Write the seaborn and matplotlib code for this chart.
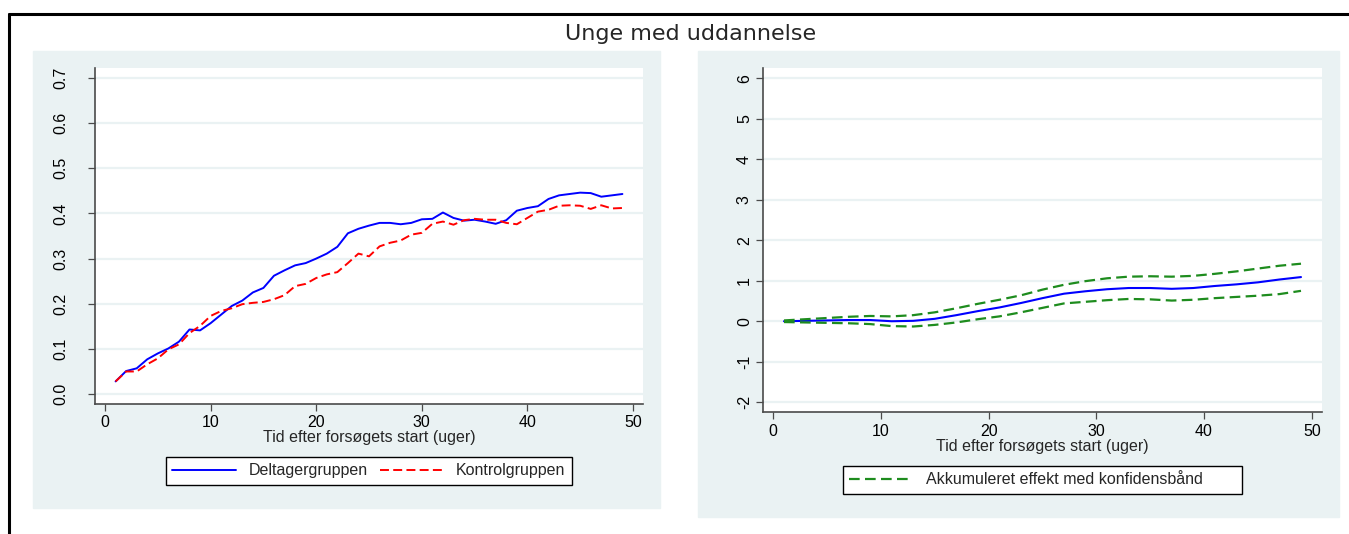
import matplotlib
matplotlib.use("Agg")
import matplotlib.pyplot as plt
import seaborn as sns
from matplotlib.patches import Rectangle
from matplotlib.lines import Line2D

W, H = 1349, 534


def fx(px):
    return px / W


def fy(py):
    return 1 - py / H


# venstre panel: andel i uddannelse pr. uge
weeks = list(range(1, 50))
deltager = [0.028, 0.051, 0.057, 0.077, 0.090, 0.101, 0.116, 0.143, 0.141, 0.157,
            0.176, 0.195, 0.207, 0.225, 0.235, 0.262, 0.274, 0.285, 0.290, 0.300,
            0.311, 0.326, 0.356, 0.366, 0.373, 0.379, 0.379, 0.376, 0.379, 0.387,
            0.388, 0.402, 0.390, 0.384, 0.386, 0.382, 0.377, 0.385, 0.406, 0.412,
            0.416, 0.432, 0.440, 0.443, 0.446, 0.445, 0.437, 0.440, 0.443]
kontrol = [0.028, 0.050, 0.050, 0.066, 0.079, 0.099, 0.110, 0.135, 0.151, 0.173,
           0.184, 0.190, 0.199, 0.202, 0.204, 0.210, 0.219, 0.239, 0.244, 0.257,
           0.265, 0.270, 0.290, 0.311, 0.305, 0.327, 0.335, 0.340, 0.353, 0.357,
           0.377, 0.382, 0.375, 0.385, 0.388, 0.386, 0.386, 0.379, 0.376, 0.390,
           0.404, 0.408, 0.417, 0.418, 0.417, 0.410, 0.418, 0.411, 0.412]

# hoejre panel: akkumuleret effekt med konfidensbaand
eff_weeks = [1, 3, 5, 7, 9, 11, 13, 15, 17, 19, 21, 23, 25, 27, 29, 31, 33, 35,
             37, 39, 41, 43, 45, 47, 49]
effekt = [0.0, 0.01, 0.02, 0.03, 0.03, 0.0, 0.01, 0.06, 0.15, 0.25, 0.34, 0.45,
          0.57, 0.68, 0.74, 0.79, 0.82, 0.82, 0.80, 0.82, 0.87, 0.91, 0.96, 1.03, 1.09]
effekt_hoej = [0.02, 0.05, 0.08, 0.11, 0.13, 0.12, 0.15, 0.22, 0.32, 0.43, 0.53,
               0.64, 0.78, 0.90, 0.99, 1.06, 1.10, 1.11, 1.10, 1.12, 1.17, 1.23,
               1.30, 1.37, 1.42]
effekt_lav = [-0.02, -0.03, -0.04, -0.05, -0.07, -0.12, -0.13, -0.09, -0.03, 0.05,
              0.12, 0.22, 0.33, 0.44, 0.48, 0.52, 0.55, 0.54, 0.51, 0.53, 0.57,
              0.60, 0.63, 0.67, 0.75]

x_ticks = [0, 10, 20, 30, 40, 50]
y_ticks_left = [0.0, 0.1, 0.2, 0.3, 0.4, 0.5, 0.6, 0.7]
y_ticks_right = [-2, -1, 0, 1, 2, 3, 4, 5, 6]

x_label = "Tid efter forsøgets start (uger)"

sns.set_style("white")
plt.rcParams["font.family"] = ["Liberation Sans", "DejaVu Sans"]
plt.rcParams["axes.unicode_minus"] = False

panel_bg = "#EAF2F3"
axis_col = "#4a4a4a"
fs = 11.5

fig = plt.figure(figsize=(W / 100, H / 100), dpi=100)
fig.patch.set_facecolor("white")

# panel-baggrunde
for x0, y0, x1, y1 in [(33, 51, 660, 508), (698, 51, 1339, 517)]:
    fig.add_artist(Rectangle((fx(x0), fy(y1)), fx(x1) - fx(x0), fy(y0) - fy(y1),
                             transform=fig.transFigure, color=panel_bg, zorder=0))

# sort ramme (top og venstre)
fig.add_artist(Line2D([fx(9), 1], [fy(14), fy(14)], color="black", lw=2.2,
                      transform=fig.transFigure))
fig.add_artist(Line2D([fx(9), fx(9)], [fy(14), 0], color="black", lw=2.2,
                      transform=fig.transFigure))

fig.text(fx(691), fy(34), "Unge med uddannelse", ha="center", va="center",
         fontsize=16, family="DejaVu Sans")


def style_axes(ax, yticks, ylim, ypad, xpad):
    ax.set_facecolor("white")
    ax.set_xlim(-0.95, 50.95)
    ax.set_ylim(*ylim)
    ax.set_xticks(x_ticks)
    ax.set_yticks(yticks)
    ax.yaxis.grid(True, color=panel_bg, lw=1.6)
    ax.xaxis.grid(False)
    ax.set_axisbelow(True)
    for side in ["top", "right"]:
        ax.spines[side].set_visible(False)
    for side in ["left", "bottom"]:
        ax.spines[side].set_color(axis_col)
        ax.spines[side].set_linewidth(1.2)
    ax.tick_params(axis="both", direction="out", length=5, width=0.9,
                   color=axis_col, labelsize=fs, labelcolor="black",
                   left=True, bottom=True)
    ax.tick_params(axis="y", pad=ypad, labelrotation=90)
    ax.tick_params(axis="x", pad=xpad)
    for lbl in ax.get_yticklabels():
        lbl.set_va("center")
    ax.set_xlabel(x_label, fontsize=fs, labelpad=0)
    ax.set_ylabel("")


# venstre panel
ax1 = fig.add_axes([fx(95), fy(404), fx(643) - fx(95), fy(68) - fy(404)])
sns.lineplot(x=weeks, y=deltager, ax=ax1, color="#0000FF", lw=1.4,
             label="Deltagergruppen", legend=False)
sns.lineplot(x=weeks, y=kontrol, ax=ax1, color="#FF0000", lw=1.4,
             linestyle=(0, (4.6, 2.2)), label="Kontrolgruppen", legend=False)
style_axes(ax1, y_ticks_left, (-0.022, 0.722), 14, 3)
ax1.set_yticklabels([f"{v:.1f}" for v in y_ticks_left])
for lbl in ax1.get_yticklabels():
    lbl.set_va("center")

h1, l1 = ax1.get_legend_handles_labels()
leg1 = fig.legend(h1, l1, loc="center", ncol=2, mode="expand",
                  bbox_to_anchor=(fx(166), fy(486), fx(572) - fx(166), fy(456) - fy(486)),
                  frameon=True, fancybox=False, edgecolor="black", framealpha=1,
                  fontsize=fs, handlelength=4, borderaxespad=0, borderpad=0.4)
leg1.get_frame().set_linewidth(1.0)

# hoejre panel
ax2 = fig.add_axes([fx(763), fy(412), fx(1322) - fx(763), fy(68) - fy(412)])
sns.lineplot(x=eff_weeks, y=effekt, ax=ax2, color="#0000FF", lw=1.5, legend=False)
sns.lineplot(x=eff_weeks, y=effekt_hoej, ax=ax2, color="#1E8C1E", lw=1.6,
             linestyle=(0, (4.8, 2.4)), label="Akkumuleret effekt med konfidensbånd",
             legend=False)
sns.lineplot(x=eff_weeks, y=effekt_lav, ax=ax2, color="#1E8C1E", lw=1.6,
             linestyle=(0, (4.8, 2.4)), legend=False)
style_axes(ax2, y_ticks_right, (-2.24, 6.25), 3, 4)

h2, l2 = ax2.get_legend_handles_labels()
leg2 = fig.legend(h2, l2, loc="center", ncol=1, mode="expand",
                  bbox_to_anchor=(fx(843), fy(495), fx(1242) - fx(843), fy(465) - fy(495)),
                  frameon=True, fancybox=False, edgecolor="black", framealpha=1,
                  fontsize=fs, handlelength=4, borderaxespad=0, borderpad=0.4)
leg2.get_frame().set_linewidth(1.0)

fig.savefig("out.png", dpi=100, facecolor="white")
